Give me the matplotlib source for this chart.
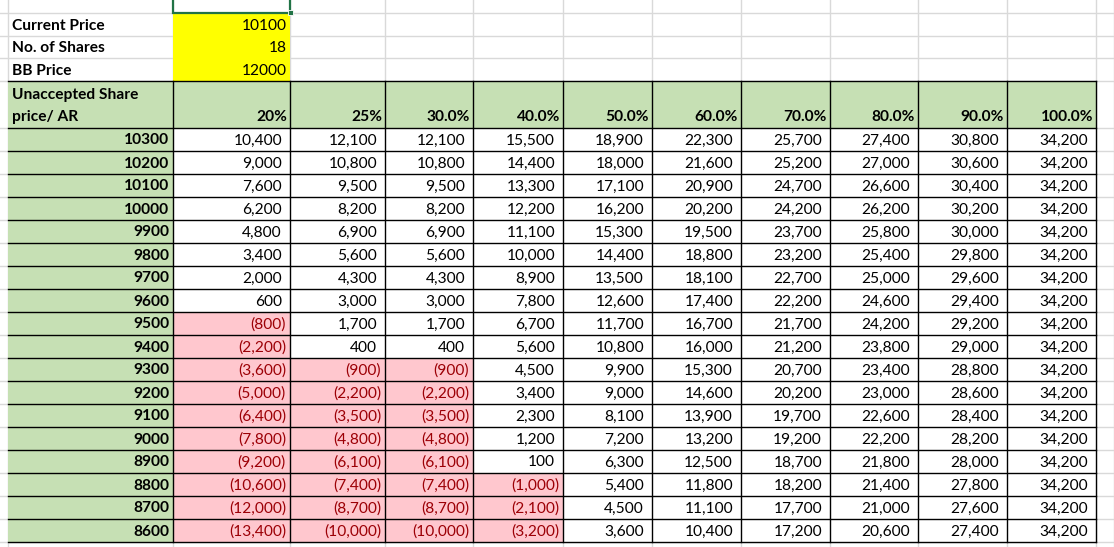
import matplotlib
matplotlib.use("Agg")
import matplotlib.pyplot as plt
from matplotlib.patches import Rectangle

top_labels = ["Current Price", "No. of Shares", "BB Price"]
top_values = [10100, 18, 12000]
header_label = ["Unaccepted Share", "price/ AR"]
pct_labels = ["20%", "25%", "30.0%", "40.0%", "50.0%", "60.0%", "70.0%", "80.0%", "90.0%", "100.0%"]
row_prices = [10300, 10200, 10100, 10000, 9900, 9800, 9700, 9600, 9500, 9400,
              9300, 9200, 9100, 9000, 8900, 8800, 8700, 8600]
values = [
    [10400, 12100, 12100, 15500, 18900, 22300, 25700, 27400, 30800, 34200],
    [9000, 10800, 10800, 14400, 18000, 21600, 25200, 27000, 30600, 34200],
    [7600, 9500, 9500, 13300, 17100, 20900, 24700, 26600, 30400, 34200],
    [6200, 8200, 8200, 12200, 16200, 20200, 24200, 26200, 30200, 34200],
    [4800, 6900, 6900, 11100, 15300, 19500, 23700, 25800, 30000, 34200],
    [3400, 5600, 5600, 10000, 14400, 18800, 23200, 25400, 29800, 34200],
    [2000, 4300, 4300, 8900, 13500, 18100, 22700, 25000, 29600, 34200],
    [600, 3000, 3000, 7800, 12600, 17400, 22200, 24600, 29400, 34200],
    [-800, 1700, 1700, 6700, 11700, 16700, 21700, 24200, 29200, 34200],
    [-2200, 400, 400, 5600, 10800, 16000, 21200, 23800, 29000, 34200],
    [-3600, -900, -900, 4500, 9900, 15300, 20700, 23400, 28800, 34200],
    [-5000, -2200, -2200, 3400, 9000, 14600, 20200, 23000, 28600, 34200],
    [-6400, -3500, -3500, 2300, 8100, 13900, 19700, 22600, 28400, 34200],
    [-7800, -4800, -4800, 1200, 7200, 13200, 19200, 22200, 28200, 34200],
    [-9200, -6100, -6100, 100, 6300, 12500, 18700, 21800, 28000, 34200],
    [-10600, -7400, -7400, -1000, 5400, 11800, 18200, 21400, 27800, 34200],
    [-12000, -8700, -8700, -2100, 4500, 11100, 17700, 21000, 27600, 34200],
    [-13400, -10000, -10000, -3200, 3600, 10400, 17200, 20600, 27400, 34200],
]

W, H = 1114, 547
fig = plt.figure(figsize=(W / 100, H / 100), dpi=100)
ax = fig.add_axes([0, 0, 1, 1])
ax.set_xlim(0, W)
ax.set_ylim(H, 0)
ax.axis("off")

FONT = "Lato"
FS = 11.2
col_edges = [8, 173, 290, 385, 473, 563, 652, 741, 830, 918, 1007, 1096]
extra_cols = [1114]
row_lines = [12.7, 35.5, 58.3, 81]
header_bottom = 127.5
RH = 23.0
data_tops = [header_bottom + i * RH for i in range(len(row_prices) + 1)]

GREEN = "#C6E0B4"
PINK = "#FFC7CE"
DRED = "#9C0006"
GRID = "#D9D9D9"

for x in col_edges + extra_cols:
    ax.plot([x, x], [0, H], color=GRID, lw=1, zorder=0)
for y in row_lines + data_tops:
    ax.plot([0, W], [y, y], color=GRID, lw=1, zorder=0)

for i, (lab, val) in enumerate(zip(top_labels, top_values)):
    y0, y1 = row_lines[i], row_lines[i + 1]
    ax.add_patch(Rectangle((col_edges[1], y0), col_edges[2] - col_edges[1], y1 - y0,
                           facecolor="#FFFF00", edgecolor="none", zorder=1))
    ym = (y0 + y1) / 2 + 1.5
    ax.text(col_edges[0] + 4, ym, lab, fontfamily=FONT, fontsize=FS, fontweight="bold",
            ha="left", va="center", zorder=3)
    ax.text(col_edges[2] - 3, ym, str(val), fontfamily=FONT, fontsize=FS,
            ha="right", va="center", zorder=3)

ax.add_patch(Rectangle((col_edges[1], -5), col_edges[2] - col_edges[1], 5 + row_lines[0],
                       facecolor="none", edgecolor="#217346", lw=1.6, zorder=4))
ax.add_patch(Rectangle((col_edges[2] - 2.5, row_lines[0] - 2.5), 5, 5,
                       facecolor="#217346", edgecolor="white", lw=0.6, zorder=5))

ax.add_patch(Rectangle((col_edges[0], 81), col_edges[-1] - col_edges[0], header_bottom - 81,
                       facecolor=GREEN, edgecolor="none", zorder=1))
ax.text(col_edges[0] + 4, 94.5, header_label[0], fontfamily=FONT, fontsize=FS,
        fontweight="bold", ha="left", va="center", zorder=3)
ax.text(col_edges[0] + 4, 117, header_label[1], fontfamily=FONT, fontsize=FS,
        fontweight="bold", ha="left", va="center", zorder=3)
for j, p in enumerate(pct_labels):
    ax.text(col_edges[j + 2] - 3, 117, p, fontfamily=FONT, fontsize=FS,
            fontweight="bold", ha="right", va="center", zorder=3)

for i, price in enumerate(row_prices):
    y0 = data_tops[i]
    ym = y0 + RH / 2 + 1.5
    ax.add_patch(Rectangle((col_edges[0], y0), col_edges[1] - col_edges[0], RH,
                           facecolor=GREEN, edgecolor="none", zorder=1))
    ax.text(col_edges[1] - 4, ym, str(price), fontfamily=FONT, fontsize=FS,
            fontweight="bold", ha="right", va="center", zorder=3)
    for j, v in enumerate(values[i]):
        x0, x1 = col_edges[j + 1], col_edges[j + 2]
        if v < 0:
            ax.add_patch(Rectangle((x0, y0), x1 - x0, RH, facecolor=PINK,
                                   edgecolor="none", zorder=1))
            ax.text(x1 - 4, ym, f"({-v:,})", fontfamily=FONT, fontsize=FS,
                    color=DRED, ha="right", va="center", zorder=3)
        else:
            ax.add_patch(Rectangle((x0, y0), x1 - x0, RH, facecolor="white",
                                   edgecolor="none", zorder=1))
            ax.text(x1 - 8, ym, f"{v:,}", fontfamily=FONT, fontsize=FS,
                    color="black", ha="right", va="center", zorder=3)

ybot = data_tops[-1]
for x in col_edges[1:]:
    ax.plot([x, x], [81, ybot], color="black", lw=1, zorder=2)
ax.plot([col_edges[0], col_edges[-1]], [81, 81], color="black", lw=1, zorder=2)
for y in data_tops:
    ax.plot([col_edges[0], col_edges[-1]], [y, y], color="black", lw=1, zorder=2)

fig.savefig("out.png", dpi=100)
